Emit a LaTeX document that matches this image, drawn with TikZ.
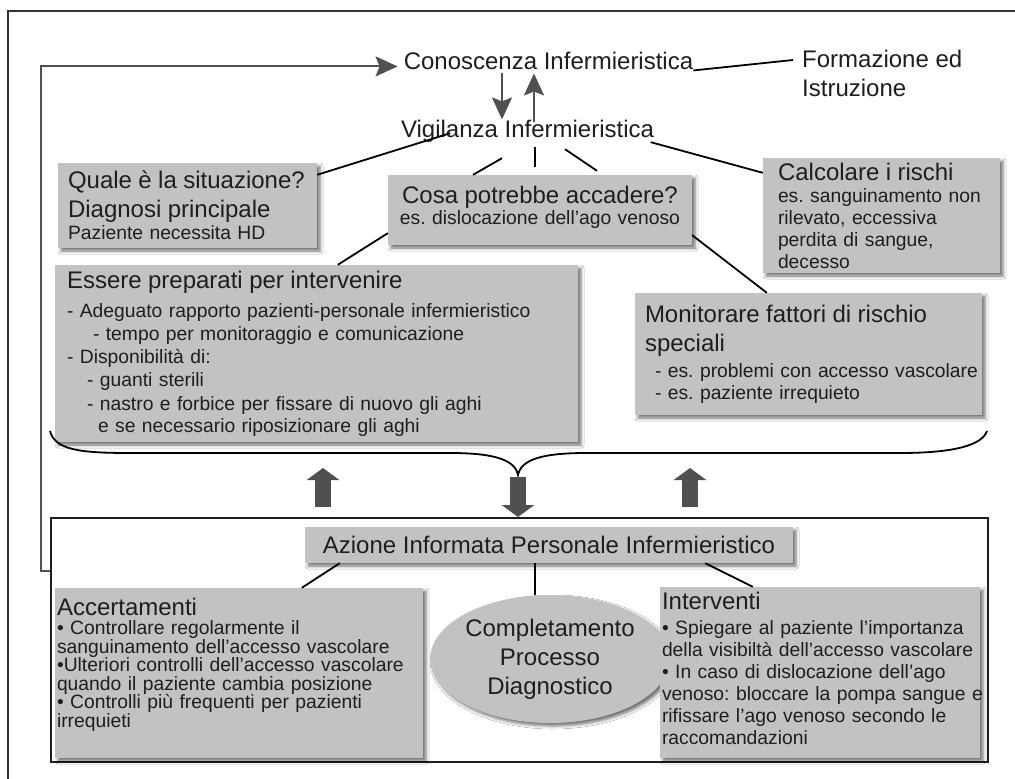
\documentclass[tikz,border=0pt]{standalone}
\usepackage{fontspec}
\setmainfont{Liberation Sans}
\usepackage{xcolor}
\usetikzlibrary{arrows.meta, positioning, shapes.geometric, shadows.blur}

\definecolor{boxgray}{RGB}{194,194,194}
\definecolor{inkgray}{RGB}{30,30,30}
\definecolor{arrowgray}{RGB}{80,80,80}

\newcommand{\titlesize}{\fontsize{24}{29}\selectfont}
\newcommand{\notesize}{\fontsize{19.3}{22}\selectfont}

\begin{document}
\frenchspacing
\hyphenpenalty=10000
\begin{tikzpicture}[
        x=1pt, y=-1pt,
        font=\notesize,
        text=inkgray,
        infobox/.style={fill=boxgray, inner sep=0pt, align=left,
            blur shadow={shadow xshift=3pt, shadow yshift=-3pt, shadow blur radius=3pt, shadow opacity=55}},
        plaintext/.style={inner sep=0pt, font=\titlesize},
        link/.style={draw=black, line width=1.8pt},
        thinarrow/.style={draw=arrowgray, line width=2.2pt, -{Stealth[length=22pt,width=20pt,inset=4pt]}},
        blockarrow/.style={draw=arrowgray, line width=16pt, -{Triangle[length=12pt,width=32pt]}},
    ]

    % Background and page frame
    \fill[white] (0,0) rectangle (1015,779);
    \useasboundingbox (0,0) rectangle (1015,779);
    \draw[black!80, line width=1.5pt] (8,795) -- (8,11) -- (1030,11);

    % --- TOP: KNOWLEDGE AND VIGILANCE ---
    \node[plaintext, anchor=base] (conosc) at (548.5,69) {Conoscenza Infermieristica};
    \node[plaintext, anchor=base] (vig) at (527.5,137) {Vigilanza Infermieristica};
    \node[plaintext, anchor=north west, align=left] (formaz) at (802,50) {Formazione ed\\Istruzione};

    % Upper boxes
    \node[infobox, minimum width=259pt, minimum height=85pt, text width=239pt] (quale) at (187.5,205.5)
        {\titlesize Quale è la situazione?\\Diagnosi principale\par\notesize Paziente necessita HD};
    \node[infobox, minimum width=304pt, minimum height=70pt, text width=300pt, align=center] (cosa) at (540,210)
        {\titlesize Cosa potrebbe accadere?\par\fontsize{19.3}{21}\selectfont es. dislocazione dell’ago venoso\par\vspace*{6pt}};
    \node[infobox, minimum width=237pt, minimum height=115pt, text width=207pt] (rischi) at (881.5,215.5)
        {\titlesize Calcolare i rischi\par\notesize \mbox{es. sanguinamento non}\\rilevato, eccessiva\\perdita di sangue,\\decesso};
    \node[infobox, minimum width=523pt, minimum height=177pt, text width=499pt] (essere) at (316.5,353.5)
        {\titlesize Essere preparati per intervenire\par\vspace{6pt}
         \fontsize{19.3}{23.2}\selectfont - Adeguato rapporto pazienti-personale infermieristico\\
         \hspace*{26pt}- tempo per monitoraggio e comunicazione\\
         - Disponibilità di:\\
         \hspace*{20pt}- guanti sterili\\
         \hspace*{20pt}- nastro e forbice per fissare di nuovo gli aghi\\
         \hspace*{31pt}e se necessario riposizionare gli aghi};
    \node[infobox, minimum width=347pt, minimum height=122pt, text width=327pt] (monit) at (808.5,354)
        {\titlesize Monitorare fattori di rischio\\speciali\par\vspace{2pt}
         \fontsize{19.3}{24}\selectfont\hspace*{10pt}\mbox{- es. problemi con accesso vascolare}\\
         \hspace*{10pt}- es. paziente irrequieto};

    % --- BOTTOM: INFORMED ACTION ---
    \node[draw=inkgray, line width=2pt, minimum width=937pt, minimum height=244pt, inner sep=0pt] (actframe) at (519.5,640) {};
    \node[infobox, minimum width=488pt, minimum height=36pt, align=center, font=\titlesize] (azione) at (549,545)
        {Azione Informata Personale Infermieristico};
    \node[infobox, minimum width=368pt, minimum height=170pt, text width=364pt] (accert) at (239,673)
        {\titlesize Accertamenti\par
         \fontsize{19.3}{18.6}\selectfont • Controllare regolarmente il\\
         sanguinamento dell’accesso vascolare\\
         •Ulteriori controlli dell’accesso vascolare\\
         quando il paziente cambia posizione\\
         • Controlli più frequenti per pazienti\\
         irrequieti\par\vspace*{16pt}};
    \node[infobox, ellipse, minimum width=204pt, minimum height=128pt, align=center, font=\titlesize] (compl) at (550,659)
        {Completamento\\Processo\\Diagnostico};
    \node[infobox, minimum width=320pt, minimum height=171pt, text width=316pt] (interv) at (820,672.5)
        {\titlesize Interventi\par\vspace{3pt}
         \notesize • Spiegare al paziente l’importanza\\
         \mbox{della visibiltà dell’accesso vascolare}\\
         • In caso di dislocazione dell’ago\\
         \mbox{venoso: bloccare la pompa sangue e}\\
         rifissare l’ago venoso secondo le\\
         raccomandazioni\par\vspace*{8pt}};

    % Feedback loop back to knowledge
    \coordinate (fbstart) at ([yshift=-54pt]actframe.north west);
    \draw[thinarrow, line width=2pt] (fbstart) -- ++(-9,0) |- ([shift={(-6pt,-6pt)}]conosc.west);

    % Knowledge <-> vigilance
    \coordinate (dnA) at ([xshift=-46.5pt,yshift=-4pt]conosc.south);
    \coordinate (upA) at ([xshift=6.5pt,yshift=-3pt]vig.north);
    \draw[thinarrow] (dnA) -- (dnA |- vig.north);
    \draw[thinarrow] (upA) -- (upA |- dnA);
    \draw[link] ([yshift=-1pt]conosc.south east) -- ([shift={(-9pt,-10pt)}]formaz.north west);

    % Vigilance to the questions
    \draw[link] ([yshift=-12pt]quale.north east) -- ([shift={(49.5pt,9pt)}]vig.south west);
    \draw[link] ([shift={(-25.5pt,-16pt)}]vig.south) -- ([xshift=-67pt]cosa.north);
    \draw[link] ([shift={(7.5pt,-5pt)}]vig.south) -- ([shift={(-5pt,8pt)}]cosa.north);
    \draw[link] ([shift={(37.5pt,-7pt)}]vig.south) -- ([shift={(57pt,4pt)}]cosa.north);
    \draw[link] ([xshift=-3.5pt]vig.south east) -- ([yshift=-15pt]rischi.north west);
    \draw[link] ([yshift=12pt]cosa.south west) -- ([xshift=283pt]essere.north west);
    \draw[link] ([yshift=10pt]cosa.south east) -- ([xshift=132pt]monit.north west);

    % Brace over the action frame
    \coordinate (bracetip) at (518,475);
    \draw[link] (50,431) .. controls (55,450) and (80,453) .. (130,453) -- (450,453)
        .. controls (495,453) and (515,460) .. (bracetip)
        .. controls (521,460) and (541,453) .. (586,453) -- (900,453)
        .. controls (955,453) and (982,445) .. (987,431);

    % Block arrows
    \draw[blockarrow] ([yshift=-2pt]bracetip) -- (bracetip |- actframe.north);
    \draw[blockarrow] ([xshift=-196.5pt,yshift=10pt]actframe.north) -- ++(0,-39);
    \draw[blockarrow] ([xshift=170.5pt,yshift=10pt]actframe.north) -- ++(0,-39);

    % Action to its parts
    \draw[link] ([xshift=35pt]azione.south west) -- ([xshift=247pt]accert.north west);
    \coordinate (azmid) at ([xshift=-14pt]azione.south);
    \draw[link] (azmid) -- (azmid |- compl.north);
    \draw[link] ([xshift=-88pt]azione.south east) -- ([xshift=93pt]interv.north west);

\end{tikzpicture}
\end{document}
